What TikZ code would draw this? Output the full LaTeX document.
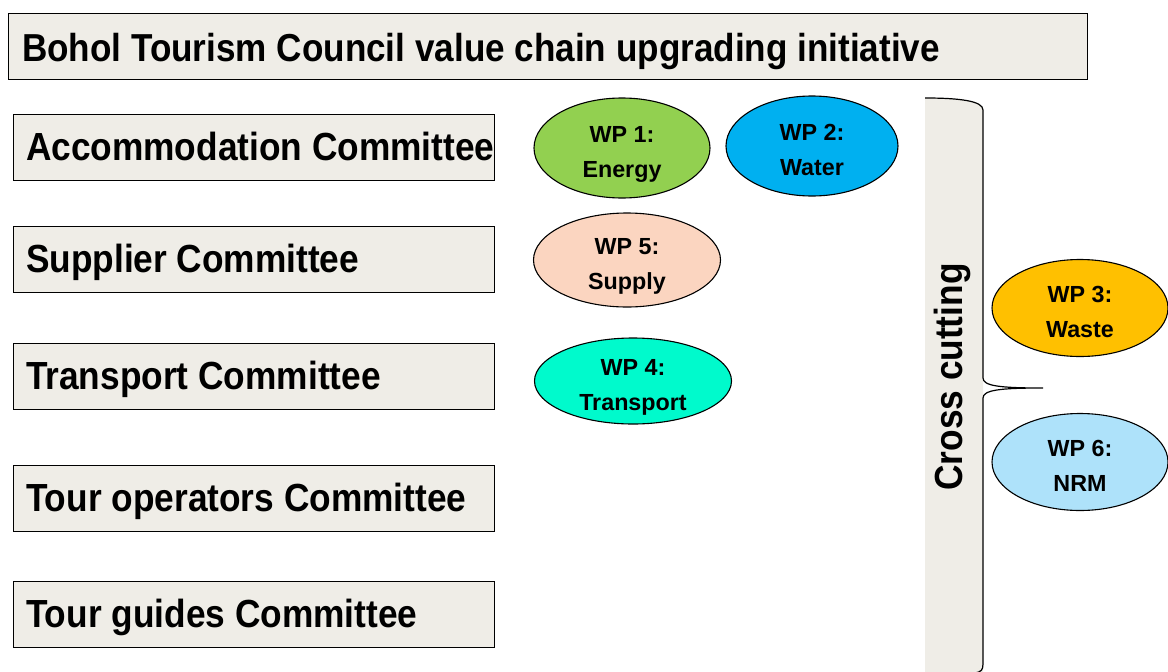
\documentclass[tikz,border=0pt]{standalone}
\usepackage{fontspec}
\setmainfont{Liberation Sans}[FakeStretch=0.9]
\newfontfamily\wpfont{Liberation Sans}
\usepackage{xcolor}
\usepackage{tikz}
\usetikzlibrary{shapes.geometric}
\definecolor{boxgray}{RGB}{239, 237, 231}
\definecolor{wpgreen}{RGB}{146, 208, 80}
\definecolor{wpblue}{RGB}{0, 176, 240}
\definecolor{wppeach}{RGB}{251, 213, 192}
\definecolor{wpaqua}{RGB}{0, 250, 204}
\definecolor{wporange}{RGB}{255, 192, 0}
\definecolor{wplblue}{RGB}{174, 226, 250}
\newcommand{\leftbox}[2]{\makebox[#1][l]{#2}}

\begin{document}
\begin{tikzpicture}[x = 1pt, y = -1pt,
		bigfont/.style = {font = \fontsize{39.2}{44}\selectfont\bfseries},
		comm/.style = {rectangle, draw, line width = 1pt, fill = boxgray, bigfont,
			minimum width = 481pt, minimum height = 66pt, inner xsep = 13pt, inner ysep = 0pt,
			text height = 27pt, text depth = 0pt},
		wp/.style = {ellipse, draw, line width = 1.1pt, inner sep = 0pt, align = center,
			text height = 59pt, text depth = 0pt,
			font = \wpfont\fontsize{23.3}{35}\selectfont\bfseries}]
		\useasboundingbox (0,0) rectangle (1168,672);
		\node (title) at (547.5,46) [comm, font = \fontsize{39}{44}\selectfont\bfseries, minimum width = 1079pt,
			text height = 31pt, inner xsep = 14pt] {\leftbox{1051pt}{Bohol Tourism Council value chain upgrading initiative}};
		\node (acc) at (253.5,147) [comm] {\leftbox{455pt}{Accommodation Committee}};
		\node (sup) at (253.5,259) [comm] {\leftbox{455pt}{Supplier Committee}};
		\node (tra) at (253.5,376) [comm] {\leftbox{455pt}{Transport Committee}};
		\node (ope) at (253.5,498) [comm] {\leftbox{455pt}{Tour operators Committee}};
		\node (gui) at (253.5,614) [comm] {\leftbox{455pt}{Tour guides Committee}};
		% cross cutting brace
		\coordinate (tip) at (1043,388);
		\fill[boxgray] (925,98) .. controls (960,98) and (983,101) .. (983,110) -- (983,672) -- (925,672) -- cycle;
		\draw[line width = 1.2pt] (925,98) .. controls (960,98) and (983,101) .. (983,110)
			-- (983,378) .. controls (983,386) and (1000,388) .. (tip)
			.. controls (1000,388) and (983,390) .. (983,398)
			-- (983,664) .. controls (983,670) and (981,672) .. (975,673);
		\node (cross) at (952,377) [bigfont, rotate = 90] {Cross cutting};
		\node (wp1) at (622,148) [wp, fill = wpgreen, minimum width = 176pt, minimum height = 100pt] {WP 1:\\Energy};
		\node (wp2) at (812,146) [wp, fill = wpblue, minimum width = 172pt, minimum height = 100pt] {WP 2:\\Water};
		\node (wp5) at (627,260) [wp, fill = wppeach, minimum width = 187pt, minimum height = 94pt] {WP 5:\\Supply};
		\node (wp4) at (633,381) [wp, fill = wpaqua, minimum width = 197pt, minimum height = 86pt] {WP 4:\\Transport};
		\node (wp3) at (1080,308) [wp, fill = wporange, minimum width = 176pt, minimum height = 97pt] {WP 3:\\Waste};
		\node (wp6) at (1080,462) [wp, fill = wplblue, minimum width = 176pt, minimum height = 97pt] {WP 6:\\NRM};
		\end{tikzpicture}
\end{document}
